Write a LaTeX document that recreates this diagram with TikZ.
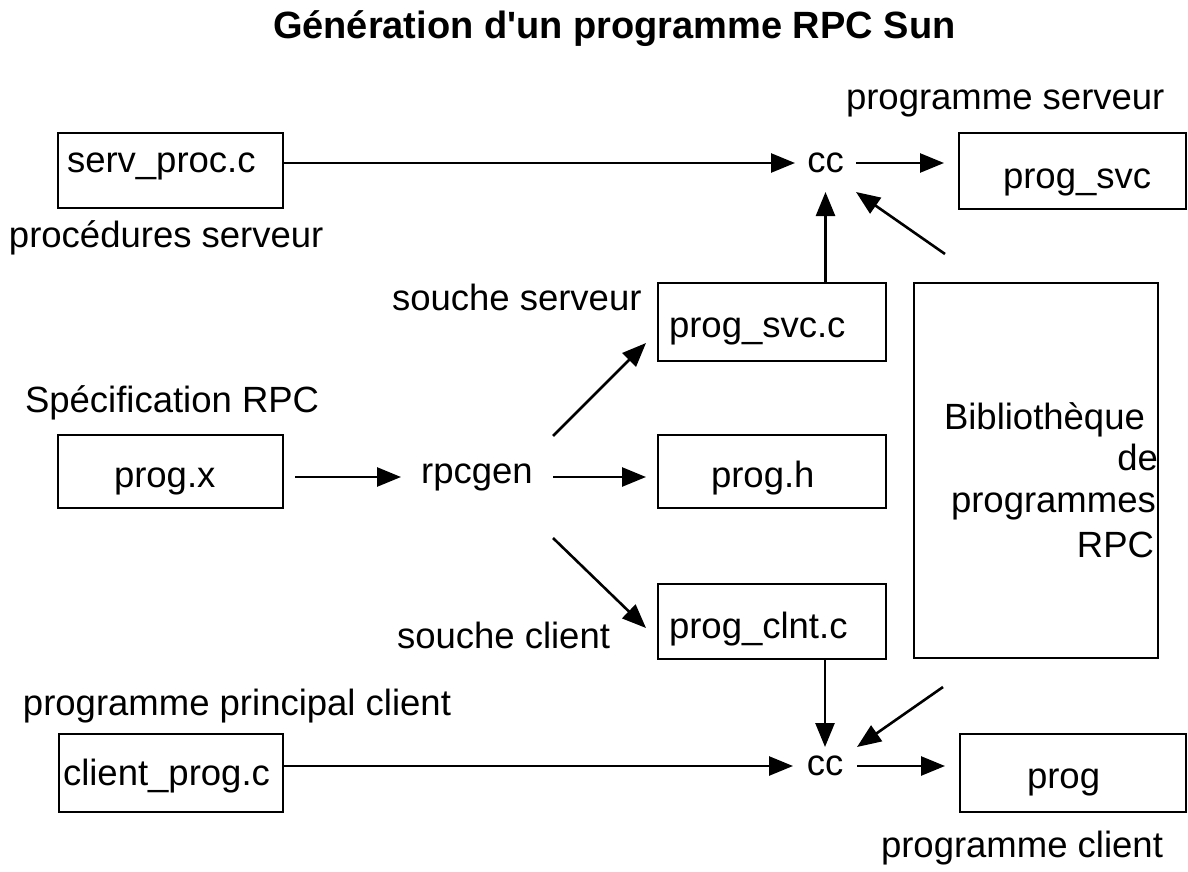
\documentclass[tikz,border=0pt]{standalone}
\usepackage{fontspec}
\setmainfont{Liberation Sans}
\newfontfamily\lib{Liberation Sans}
\usetikzlibrary{arrows.meta,calc}
\begin{document}
\begin{tikzpicture}[x=1pt,y=-1pt,
  box/.style={draw, line width=2.6pt, rectangle, inner sep=0pt, outer sep=0pt, anchor=north west},
  txt/.style={inner sep=0pt, outer sep=0pt, anchor=base west, font=\lib\fontsize{36.5}{44}\selectfont},
  txtr/.style={txt, anchor=base east},
  ccnode/.style={inner sep=0pt, outer sep=0pt, font=\lib\fontsize{36.5}{44}\selectfont},
  conn/.style={line width=2.6pt},
  arr/.style={conn, -{Triangle[length=24pt,width=19pt]}}
]
\useasboundingbox (0,0) rectangle (1188,872);

% title
\node[txt, font=\lib\bfseries\fontsize{38}{46}\selectfont] (title) at (273,39) {Génération d'un programme RPC Sun};

% boxes
\node[box, minimum width=225, minimum height=75] (servproc) at (58,133) {};
\node[box, minimum width=227, minimum height=76] (progsvc) at (959,133) {};
\node[box, minimum width=228, minimum height=78] (progsvcc) at (658,283) {};
\node[box, minimum width=244, minimum height=375] (biblio) at (914,283) {};
\node[box, minimum width=225, minimum height=73] (progx) at (58,435) {};
\node[box, minimum width=228, minimum height=73] (progh) at (658,435) {};
\node[box, minimum width=228, minimum height=75] (progclnt) at (658,584) {};
\node[box, minimum width=224, minimum height=78] (clientprog) at (59,734) {};
\node[box, minimum width=226, minimum height=78] (prog) at (960,734) {};

% texts in boxes
\node[txt] (servproc-t) at (67,172) {serv\_proc.c};
\node[txt] (progsvc-t) at (1003,188) {prog\_svc};
\node[txt] (progsvcc-t) at (669,337) {prog\_svc.c};
\node[txt] (progx-t) at (114,487) {prog.x};
\node[txt] (progh-t) at (711,487) {prog.h};
\node[txt] (progclnt-t) at (669,638) {prog\_clnt.c};
\node[txt] (clientprog-t) at (63,785) {client\_prog.c};
\node[txt] (prog-t) at (1027,788) {prog};
\node[txt] (bib1) at (944,429) {Bibliothèque};
\node[txtr] (bib2) at (1158,470) {de};
\node[txt] (bib3) at (951,512) {programmes};
\node[txtr] (bib4) at (1154,557) {RPC};

% free labels
\node[txt] (l-progserv) at (846,110) {programme serveur};
\node[txt] (l-procserv) at (9,247) {procédures serveur};
\node[txt] (l-souchesrv) at (392,310) {souche serveur};
\node[txt] (l-spec) at (25,412) {Spécification RPC};
\node[txt] (l-souchecl) at (397,648) {souche client};
\node[txt] (l-princ) at (23,715) {programme principal client};
\node[txt] (l-progcl) at (881,857) {programme client};

% process nodes
\node[ccnode, minimum width=61, minimum height=58] (cctop) at (825.5,163) {cc};
\node[ccnode, minimum width=64, minimum height=38] (ccbot) at (825,766) {cc};
\node[ccnode, minimum width=152] (rpcgen) at (477,477) {rpcgen};

\coordinate (libtop) at (945,254);
\coordinate (libbot) at (943,687);

% connectors
\draw[arr] (servproc.east |- cctop.west) -- (cctop.west);
\draw[arr] (cctop.east) -- ($(progsvc.west |- cctop.east)+(-15,0)$);
\draw[arr] (progsvcc.north -| cctop.south) -- (cctop.south);
\draw[arr] (libtop) -- (cctop.south east);
\draw[arr] ($(progx.east |- rpcgen.west)+(12,0)$) -- (rpcgen.west);
\draw[arr] (rpcgen.east) -- ($(progh.west |- rpcgen.east)+(-12,0)$);
\draw[arr] ($(rpcgen.east)+(0,-41)$) -- ($(progsvcc.west)+(-12,21)$);
\draw[arr] ($(rpcgen.east)+(0,61)$) -- ($(progclnt.west)+(-12,6.5)$);
\draw[arr] (progclnt.south -| ccbot.north) -- (ccbot.north);
\draw[arr] (libbot) -- (ccbot.north east);
\draw[arr] (clientprog.east |- ccbot.west) -- (ccbot.west);
\draw[arr] (ccbot.east) -- ($(prog.west |- ccbot.east)+(-15,0)$);
\end{tikzpicture}
\end{document}
